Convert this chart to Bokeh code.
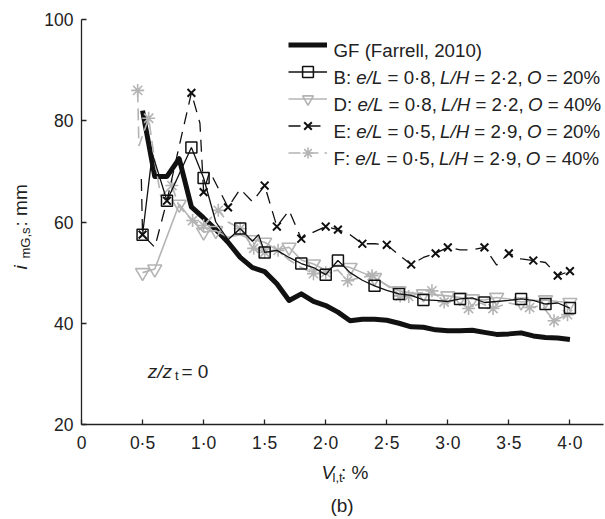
import math
from bokeh.plotting import figure
from bokeh.models import Range1d, FixedTicker, Label, Legend, LegendItem, LinearAxis
from bokeh.embed import file_html
from bokeh.resources import INLINE

# ---------------- data ----------------
X_TICKS = [0, 0.5, 1.0, 1.5, 2.0, 2.5, 3.0, 3.5, 4.0]
X_TICK_LABELS = ["0", "0·5", "1·0", "1·5", "2·0", "2·5", "3·0", "3·5", "4·0"]
Y_TICKS = [20, 40, 60, 80, 100]
Y_TICK_LABELS = ["20", "40", "60", "80", "100"]

GF_X = [0.5, 0.6, 0.7, 0.8, 0.9, 1.0, 1.1, 1.2, 1.3, 1.4, 1.5, 1.6, 1.7, 1.8, 1.9, 2.0, 2.1, 2.2,
        2.3, 2.4, 2.5, 2.6, 2.7, 2.8, 2.9, 3.0, 3.1, 3.2, 3.3, 3.4, 3.5, 3.6, 3.7, 3.8, 3.9, 4.0]
GF_Y = [82, 69, 69, 72.5, 63, 60.8, 58.5, 56, 53, 51, 50.2, 47.8, 44.5, 45.8, 44.3, 43.5, 42.2, 40.5,
        40.8, 40.8, 40.6, 40, 39.3, 39.2, 38.7, 38.5, 38.5, 38.6, 38.2, 37.8, 37.9, 38.1, 37.5, 37.2, 37.1, 36.8]

B_LINE_X = [0.5, 0.58, 0.7, 0.9, 1.0, 1.1, 1.2, 1.3, 1.4, 1.45, 1.5, 1.6, 1.7, 1.8, 1.9, 2.0, 2.1, 2.2,
            2.3, 2.4, 2.5, 2.6, 2.7, 2.8, 2.9, 3.0, 3.1, 3.2, 3.3, 3.4, 3.5, 3.6, 3.7, 3.8, 3.9, 4.0]
B_LINE_Y = [57.5, 73.5, 64.2, 74.7, 68.7, 60, 56.5, 58.7, 56.2, 57.5, 54, 54.4, 53, 51.8, 51, 49.6, 52.4, 50,
            48.5, 47.4, 46.5, 45.8, 45.5, 44.6, 44.5, 44.3, 44.8, 45, 44.1, 44.3, 44.5, 44.8, 44.5, 43.8, 44, 43]
B_MARK_X = [0.5, 0.7, 0.9, 1.0, 1.3, 1.5, 1.8, 2.0, 2.1, 2.4, 2.6, 2.8, 3.1, 3.3, 3.6, 3.8, 4.0]
B_MARK_Y = [57.5, 64.2, 74.7, 68.7, 58.7, 54, 51.8, 49.6, 52.4, 47.4, 45.8, 44.6, 44.8, 44.1, 44.8, 43.8, 43]

D_LINE_X = [0.5, 0.6, 0.8, 0.9, 1.0, 1.1, 1.2, 1.3, 1.4, 1.5, 1.6, 1.7, 1.8, 1.9, 2.0, 2.1, 2.2, 2.3,
            2.4, 2.5, 2.6, 2.7, 2.8, 2.9, 3.0, 3.1, 3.2, 3.3, 3.4, 3.5, 3.6, 3.7, 3.8, 3.9, 4.0]
D_LINE_Y = [50, 50.7, 63.5, 60.5, 58, 58.3, 57, 57.5, 56.5, 56, 54.5, 55, 52.5, 51.7, 50.5, 51.5, 51, 50,
            49, 47.5, 46.4, 46, 45.8, 45.6, 45.4, 45.1, 44.8, 44.6, 45.1, 44.8, 44.2, 44.5, 44.6, 44.3, 44.1]
D_MARK_X = [0.5, 0.6, 0.8, 1.0, 1.1, 1.4, 1.5, 1.7, 1.9, 2.2, 2.4, 2.6, 2.8, 3.0, 3.1, 3.2, 3.4, 3.6, 3.8, 4.0]
D_MARK_Y = [50, 50.7, 63.5, 58, 58.3, 56.5, 56, 55, 51.7, 51, 49, 46.4, 45.8, 45.4, 45.1, 44.8, 45.1, 44.2, 44.6, 44.1]

E_LINE_X = [0.49, 0.5, 0.6, 0.7, 0.8, 0.9, 0.97, 1.0, 1.05, 1.2, 1.3, 1.4, 1.5, 1.6, 1.7, 1.8, 1.9, 2.0,
            2.1, 2.2, 2.3, 2.4, 2.5, 2.6, 2.7, 2.8, 2.9, 3.0, 3.1, 3.2, 3.3, 3.4, 3.5, 3.6, 3.7, 3.8, 3.9, 4.0]
E_LINE_Y = [68.5, 57.5, 55, 64.2, 75, 85.5, 79.5, 66, 70, 62.9, 66.5, 64, 67.2, 59.1, 62.3, 56.7, 58, 59.1,
            58.5, 57.5, 55.7, 55.7, 55.5, 53.5, 51.6, 53, 53.8, 55, 54.5, 54.5, 55, 51.5, 53.8, 52.7, 52.4, 52, 49.4, 50.3]
E_MARK_X = [0.5, 0.7, 0.9, 1.0, 1.2, 1.5, 1.6, 1.8, 2.0, 2.1, 2.3, 2.5, 2.7, 2.9, 3.0, 3.3, 3.5, 3.7, 3.9, 4.0]
E_MARK_Y = [57.5, 64.2, 85.5, 65.9, 62.9, 67.2, 59.1, 56.7, 59.1, 58.5, 55.7, 55.5, 51.6, 53.8, 55, 55, 53.8, 52.4, 49.4, 50.3]

F_LINE_X = [0.46, 0.47, 0.55, 0.6, 0.65, 0.74, 0.8, 0.91, 1.0, 1.12, 1.2, 1.3, 1.41, 1.5, 1.61, 1.7, 1.8,
            1.9, 2.0, 2.1, 2.18, 2.28, 2.38, 2.5, 2.61, 2.68, 2.78, 2.87, 2.97, 3.07, 3.17, 3.27, 3.37, 3.5,
            3.67, 3.77, 3.87, 3.98]
F_LINE_Y = [86, 75, 80.5, 72, 65, 67.2, 63, 60.3, 59.3, 62.3, 60, 58.7, 54.8, 54, 54.4, 52.5, 51,
            49.8, 50, 50.5, 48.4, 49, 49.4, 47.5, 45.4, 45.3, 46, 46.4, 44.2, 44.5, 42.9, 44, 42.9, 44,
            43.1, 43.5, 40.5, 41.7]
F_MARK_X = [0.46, 0.55, 0.74, 0.91, 1.0, 1.12, 1.3, 1.41, 1.5, 1.61, 1.9, 2.0, 2.18, 2.38, 2.61, 2.68,
            2.87, 2.97, 3.17, 3.37, 3.67, 3.87, 3.98]
F_MARK_Y = [86, 80.5, 67.2, 60.3, 59.3, 62.3, 58.7, 54.8, 54, 54.4, 49.8, 50, 48.4, 49.4, 45.4, 45.3,
            46.4, 44.2, 42.9, 42.9, 43.1, 40.5, 41.7]

LEGEND_ROWS = [
    [("GF (Farrell, 2010)", False)],
    [("B: ", False), ("e/L", True), (" = 0·8, ", False), ("L/H", True), (" = 2·2, ", False), ("O", True), (" = 20%", False)],
    [("D: ", False), ("e/L", True), (" = 0·8, ", False), ("L/H", True), (" = 2·2, ", False), ("O", True), (" = 40%", False)],
    [("E: ", False), ("e/L", True), (" = 0·5, ", False), ("L/H", True), (" = 2·9, ", False), ("O", True), (" = 20%", False)],
    [("F: ", False), ("e/L", True), (" = 0·5, ", False), ("L/H", True), (" = 2·9, ", False), ("O", True), (" = 40%", False)],
]

# ---------------- layout ----------------
W, H = 605, 519
AX_L, AX_R, AX_T, AX_B = 81, 603, 19, 424     # pixel extent of the axes box
XMAX = 4.275
YMIN, YMAX = 20, 100
PX_X = (AX_R - AX_L) / XMAX                   # pixels per x unit
PX_Y = (AX_B - AX_T) / (YMAX - YMIN)          # pixels per y unit
X0, X1 = -AX_L / PX_X, (W - AX_L) / PX_X
Y1, Y0 = YMAX + AX_T / PX_Y, YMAX - (H - AX_T) / PX_Y
FONT = "Liberation Sans"
TXT = "#222222"
GRAY = "#b4b4b4"
INK = "#111111"
TEXT_SHIFT = 6        # empirical correction of the label baseline placement


def dx(px):
    return X0 + px / PX_X


def dy(py):
    return Y1 - py / PX_Y


p = figure(width=W, height=H, x_range=Range1d(X0, X1), y_range=Range1d(Y0, Y1),
           output_backend="svg", toolbar_location=None, title=None,
           x_axis_location=None, y_axis_location=None, min_border=0)
p.outline_line_color = None
p.xgrid.visible = False
p.ygrid.visible = False
p.background_fill_color = "white"
p.border_fill_color = "white"

xaxis = LinearAxis(fixed_location=YMIN, bounds=(0, XMAX), ticker=FixedTicker(ticks=X_TICKS),
                   major_label_overrides={t: s for t, s in zip(X_TICKS, X_TICK_LABELS)})
yaxis = LinearAxis(fixed_location=0, bounds=(YMIN, YMAX), ticker=FixedTicker(ticks=Y_TICKS),
                   major_label_overrides={t: s for t, s in zip(Y_TICKS, Y_TICK_LABELS)})
for ax in (xaxis, yaxis):
    ax.axis_line_color = "#222222"
    ax.axis_line_width = 1.3
    ax.major_tick_line_color = "#222222"
    ax.major_tick_line_width = 1.3
    ax.major_tick_in = 5
    ax.major_tick_out = 0
    ax.minor_tick_line_color = None
    ax.major_label_text_font = FONT
    ax.major_label_text_font_size = "17.5px"
    ax.major_label_text_color = TXT
    ax.major_label_standoff = 8
p.add_layout(xaxis, "below")
p.add_layout(yaxis, "left")

# ---------------- series ----------------
r_gf = p.line(GF_X, GF_Y, line_color=INK, line_width=5, line_join="round")

r_d_line = p.line(D_LINE_X, D_LINE_Y, line_color=GRAY, line_width=1.6)
r_d_mark = p.scatter(D_MARK_X, D_MARK_Y, marker="inverted_triangle", size=14, fill_color=None,
                     line_color=GRAY, line_width=1.6)

r_f_line = p.line(F_LINE_X, F_LINE_Y, line_color=GRAY, line_width=1.6, line_dash="12 6")
r_f_mark = p.scatter(F_MARK_X, F_MARK_Y, marker="asterisk", size=13, line_color=GRAY, line_width=1.6)

r_b_line = p.line(B_LINE_X, B_LINE_Y, line_color=INK, line_width=1.3)
r_b_mark = p.scatter(B_MARK_X, B_MARK_Y, marker="square", size=11, fill_color=None,
                     line_color=INK, line_width=1.5)

r_e_line = p.line(E_LINE_X, E_LINE_Y, line_color=INK, line_width=1.3, line_dash="12 8")
r_e_mark = p.scatter(E_MARK_X, E_MARK_Y, marker="x", size=11, line_color=INK, line_width=2)

# ---------------- legend ----------------
ROW_H = 27
LEG_TOP = 36          # top of the first legend row (pixels)
LEG_SHIFT = 5         # empirical correction of the legend placement
LEG_X = 288
items = [
    LegendItem(label="", renderers=[r_gf]),
    LegendItem(label="", renderers=[r_b_line, r_b_mark]),
    LegendItem(label="", renderers=[r_d_line, r_d_mark]),
    LegendItem(label="", renderers=[r_e_line, r_e_mark]),
    LegendItem(label="", renderers=[r_f_line, r_f_mark]),
]
legend = Legend(items=items,
                location=(LEG_X, H - (LEG_TOP + ROW_H * len(items)) + LEG_SHIFT),
                orientation="vertical", padding=0, margin=0, spacing=0,
                glyph_width=39, glyph_height=ROW_H, label_height=ROW_H, label_width=0,
                label_standoff=0, border_line_color=None, background_fill_alpha=0,
                label_text_font_size="1px")
p.add_layout(legend)

# Arial / Liberation Sans advance widths (per 1000 em)
AW = {" ": 278, "%": 889, "(": 333, ")": 333, ",": 278, "/": 278, ":": 278, "=": 584, "·": 278,
      "B": 667, "D": 722, "E": 667, "F": 611, "G": 778, "H": 722, "L": 556, "O": 778, "V": 667,
      "a": 556, "e": 556, "l": 222, "r": 333, "i": 222, "m": 833, "s": 500, "t": 278, "z": 500}


def tw(s, size):
    return sum(AW.get(c, 556) for c in s) * size / 1000.0


def put(text, px, py, size, italic=False, rotated=False, align="left"):
    if rotated:
        px -= TEXT_SHIFT / 2
    else:
        py -= TEXT_SHIFT
    p.add_layout(Label(x=dx(px), y=dy(py), text=text, text_font=FONT, text_font_size=f"{size}px",
                       text_font_style="italic" if italic else "normal",
                       angle=math.pi / 2 if rotated else 0.0,
                       text_align=align, text_baseline="alphabetic", text_color=TXT))


LEG_FS = 18.7
for i, row in enumerate(LEGEND_ROWS):
    base = LEG_TOP + ROW_H * i + ROW_H / 2 + 6.7
    x = 333
    for s, it in row:
        lead = len(s) - len(s.lstrip(" "))
        put(s.strip(), x + tw(" " * lead, LEG_FS), base, LEG_FS, italic=it)
        x += tw(s, LEG_FS)

# x axis label  V_l,t: %
put("V", 321, 478, 19, italic=True)
put("l,t", 332, 483, 13)
put(": %", 340.5, 478, 19)
# panel tag
put("(b)", 341.5, 511, 19, align="center")
# y axis label  i_mG,s: mm  (rotated)
put("i", 22.5, 269, 19, italic=True, rotated=True)
put("mG,s", 27.5, 258, 13, rotated=True)
put(": mm", 22.5, 226, 19, rotated=True)
# annotation z/z_t = 0
put("z/z", 147.3, 377, 19, italic=True)
put("t", 174.5, 381, 13)
put("= 0", 181, 377, 19)

open("out.html", "w").write(file_html(p, INLINE))
